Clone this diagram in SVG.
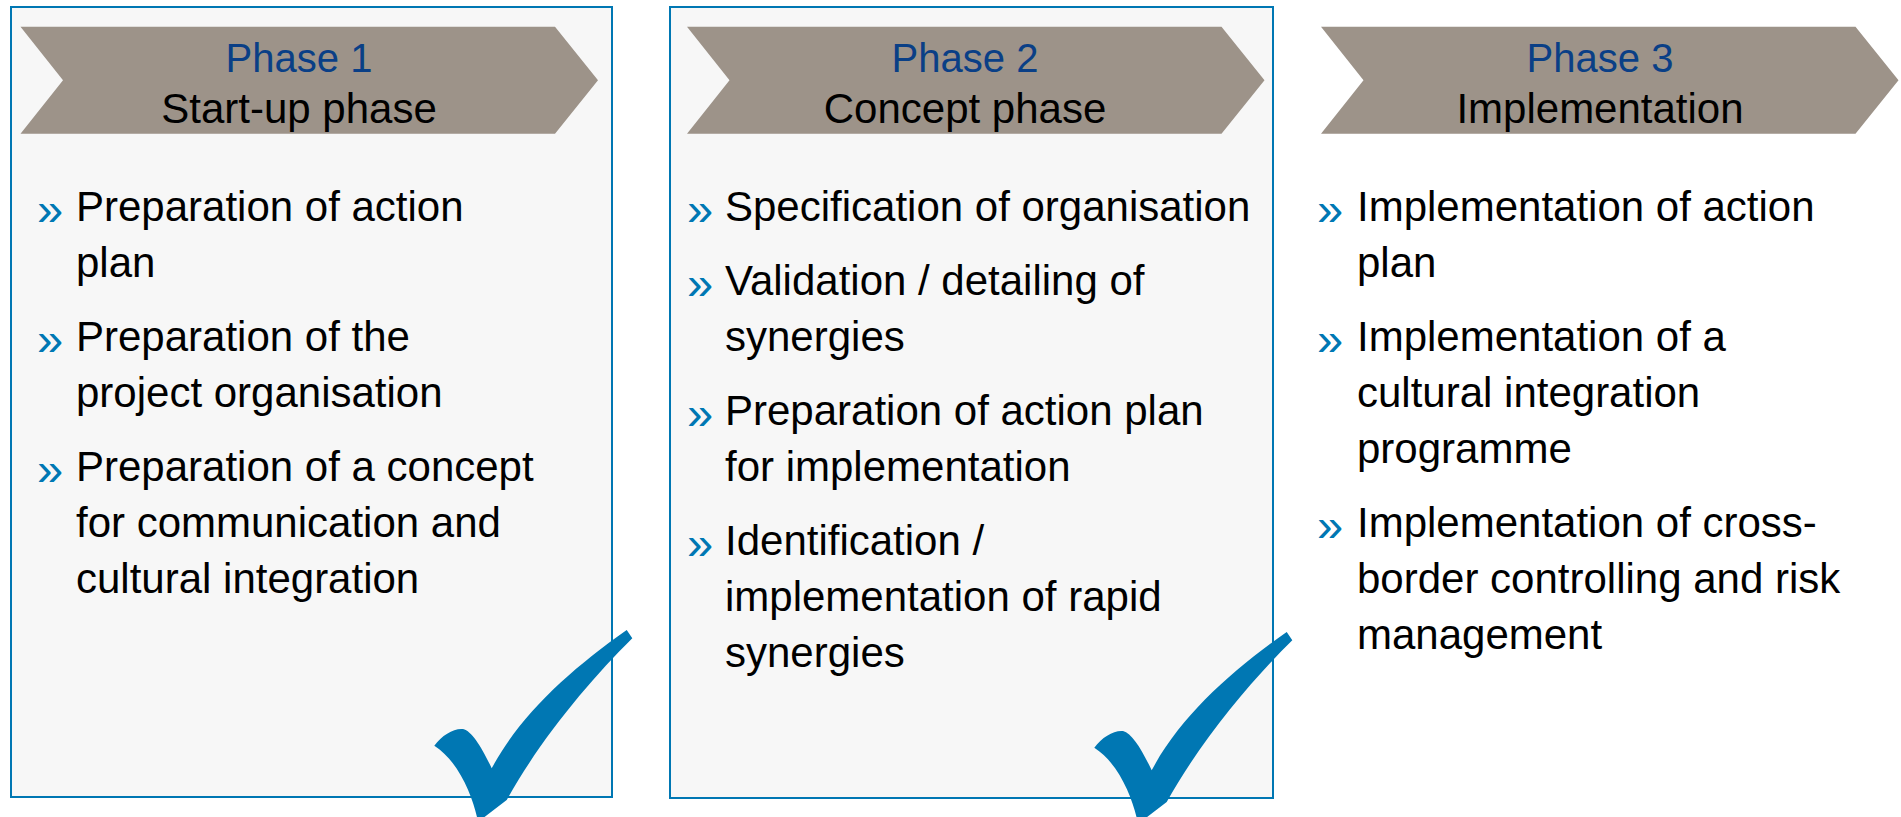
<svg xmlns="http://www.w3.org/2000/svg" width="1901" height="817" viewBox="0 0 1901 817">
  <style>
    .panel { fill: #f7f7f7; stroke: #0077b3; stroke-width: 2; }
    .chevron { fill: #9d9389; }
    .title { font-family: "Liberation Sans", Arial, sans-serif; font-size: 40px; fill: #0a3f86; text-anchor: middle; }
    .subtitle { font-family: "Liberation Sans", Arial, sans-serif; font-size: 42px; fill: #000000; text-anchor: middle; }
    .item { font-family: "Liberation Sans", Arial, sans-serif; font-size: 42px; fill: #000000; }
    .bullet { font-family: "Liberation Sans", Arial, sans-serif; font-size: 47px; fill: #0077b3; }
    .check { fill: #0077b3; }
  </style>
  <defs>
    <!-- arrow-shaped phase header, 577 wide, 107 tall -->
    <path id="chev" d="M0 0 H534.5 L577.5 53.5 L534.5 107 H0 L42.5 53.5 Z"/>
    <!-- completion tick mark -->
    <path id="tick" d="M626.7 630 L632.3 638.3 C590 680 540 740 506.7 800 L478 822 C474 800 460 762 434.3 745.7 C442 735 454 728 463 729 C472 731 482 748 491.7 768.3 C520 715 570 670 626.7 630 Z"/>
  </defs>

  <rect x="0" y="0" width="1901" height="817" fill="#ffffff"/>

  <!-- Phase 1 -->
  <g id="phase1">
    <rect class="panel" x="11" y="7" width="601" height="790"/>
    <use href="#chev" class="chevron" x="20.5" y="26.7"/>
    <text class="title" x="299" y="72">Phase 1</text>
    <text class="subtitle" x="299" y="123">Start-up phase</text>
    <text class="bullet" x="37" y="225">»</text>
    <text class="bullet" x="37" y="355">»</text>
    <text class="bullet" x="37" y="485">»</text>
    <text class="item">
      <tspan x="76" y="221">Preparation of action</tspan>
      <tspan x="76" y="277">plan</tspan>
      <tspan x="76" y="351">Preparation of the</tspan>
      <tspan x="76" y="407">project organisation</tspan>
      <tspan x="76" y="481">Preparation of a concept</tspan>
      <tspan x="76" y="537">for communication and</tspan>
      <tspan x="76" y="593">cultural integration</tspan>
    </text>
    <use href="#tick" class="check"/>
  </g>

  <!-- Phase 2 -->
  <g id="phase2">
    <rect class="panel" x="670" y="7" width="603" height="791"/>
    <use href="#chev" class="chevron" x="687" y="26.7"/>
    <text class="title" x="965" y="72">Phase 2</text>
    <text class="subtitle" x="965" y="123">Concept phase</text>
    <text class="bullet" x="687" y="225">»</text>
    <text class="bullet" x="687" y="299">»</text>
    <text class="bullet" x="687" y="429">»</text>
    <text class="bullet" x="687" y="559">»</text>
    <text class="item">
      <tspan x="725" y="221">Specification of organisation</tspan>
      <tspan x="725" y="295">Validation / detailing of</tspan>
      <tspan x="725" y="351">synergies</tspan>
      <tspan x="725" y="425">Preparation of action plan</tspan>
      <tspan x="725" y="481">for implementation</tspan>
      <tspan x="725" y="555">Identification /</tspan>
      <tspan x="725" y="611">implementation of rapid</tspan>
      <tspan x="725" y="667">synergies</tspan>
    </text>
    <use href="#tick" class="check" transform="translate(660 2)"/>
  </g>

  <!-- Phase 3 -->
  <g id="phase3">
    <use href="#chev" class="chevron" x="1321" y="26.7"/>
    <text class="title" x="1600" y="72">Phase 3</text>
    <text class="subtitle" x="1600" y="123">Implementation</text>
    <text class="bullet" x="1317" y="225">»</text>
    <text class="bullet" x="1317" y="355">»</text>
    <text class="bullet" x="1317" y="541">»</text>
    <text class="item">
      <tspan x="1357" y="221">Implementation of action</tspan>
      <tspan x="1357" y="277">plan</tspan>
      <tspan x="1357" y="351">Implementation of a</tspan>
      <tspan x="1357" y="407">cultural integration</tspan>
      <tspan x="1357" y="463">programme</tspan>
      <tspan x="1357" y="537">Implementation of cross-</tspan>
      <tspan x="1357" y="593">border controlling and risk</tspan>
      <tspan x="1357" y="649">management</tspan>
    </text>
  </g>

  <g id="connectors"/>
</svg>
